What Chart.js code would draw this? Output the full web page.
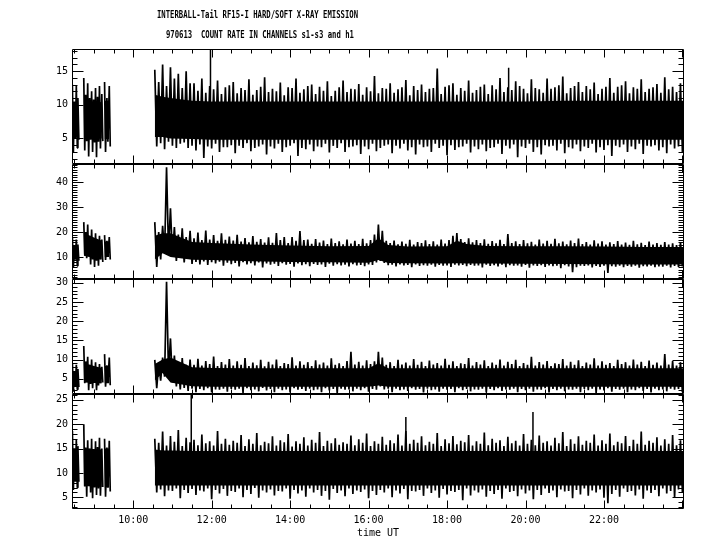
<!DOCTYPE html>
<html>
<head>
<meta charset="utf-8">
<script src="https://cdn.jsdelivr.net/npm/chart.js@4"></script>
<style>
  body { margin: 0; background: #fff; }
  #wrap { position: relative; width: 720px; height: 550px; }
  canvas { position: absolute; left: 0; top: 0; }
  .title { position: absolute; font-family: 'DejaVu Sans Mono', monospace; font-size: 11px; line-height: 11px; font-weight: bold;
           white-space: pre; transform: scaleX(0.66); transform-origin: 0 0; color: #000; }
</style>
</head>
<body>
<div id="wrap">
  <canvas id="chart" width="720" height="550"></canvas>
  <div class="title" style="left:157px; top:9px;">INTERBALL-Tail RF15-I HARD/SOFT X-RAY EMISSION</div>
  <div class="title" style="left:166px; top:29px;">970613  COUNT RATE IN CHANNELS s1-s3 and h1</div>
</div>
<script>
// --- Time grid (hours UT) ---
// early passes before the data gap, null entries mark breaks
const earlyTimes = [8.45, 8.50, 8.55, 8.59, 8.66, 8.74, 8.79, 8.84, 8.89, 8.94, 8.99, 9.04, 9.09, 9.14, 9.20, 9.23, 9.27, 9.33, 9.39];
const earlyStep = 0.05;
const mainStart = 10.55;
const mainStep = 0.1;
// knots for the dense (always covered) part of each trace
const coreTimes = [8.45, 8.59, 8.66, 8.74, 9.20, 9.23, 9.27, 9.39, 10.0, 10.55, 10.75, 10.95, 11.5, 12, 13, 14, 15, 16, 16.25, 16.5, 17, 18, 18.25, 18.5, 19, 20, 21, 22, 23, 24.04];
const xTickHours = [10, 12, 14, 16, 18, 20, 22];

// --- Channel 1 (s1): max / min count in each time bin ---
const p1EarlyHi = [13.0, 10.5, 12.8, 11.0, null, 14.0, 11.5, 13.2, 11.0, 12.0, 10.8, 12.5, 11.2, 12.8, 11.6, null, 13.4, 11.0, 12.8];
const p1EarlyLo = [3.0, 5.0, 3.6, 4.8, null, 3.2, 4.6, 2.3, 4.8, 3.0, 4.4, 2.2, 4.5, 3.5, 4.6, null, 3.0, 4.5, 3.8];
const p1Hi = [15.2, 13.4, 16.0, 12.8, 15.6, 13.9, 14.6, 12.5, 15.0, 13.2,
  13.2, 12.1, 13.9, 11.8, 12.8, 12.3, 13.6, 11.6, 12.6, 12.9,
  13.4, 11.7, 12.5, 12.2, 13.8, 11.5, 12.2, 12.7, 14.1, 11.9,
  12.4, 12.0, 13.3, 11.4, 12.6, 12.5, 13.9, 11.8, 12.3, 12.8,
  13.0, 11.6, 12.7, 12.1, 13.5, 11.3, 12.1, 12.6, 13.6, 11.9,
  12.4, 12.3, 13.1, 11.5, 12.6, 12.0, 14.3, 11.7, 12.5, 12.4,
  13.2, 11.8, 12.3, 12.6, 13.7, 11.4, 12.8, 12.2, 13.0, 11.9,
  12.4, 12.5, 15.4, 11.6, 12.7, 12.9, 13.2, 11.5, 12.5, 12.1,
  13.6, 11.8, 12.2, 12.7, 13.0, 11.6, 12.9, 12.3, 14.0, 11.9,
  12.6, 12.2, 13.5, 12.8, 12.4, 11.7, 13.8, 12.5, 12.3, 11.8,
  13.9, 12.4, 12.6, 12.9, 14.2, 11.7, 12.5, 12.8, 13.4, 11.9,
  12.8, 12.3, 13.3, 11.6, 12.4, 12.7, 14.0, 11.8, 12.7, 12.9,
  13.5, 11.7, 12.6, 12.4, 13.8, 11.9, 12.4, 12.6, 13.1, 11.8,
  14.1, 12.3, 12.7, 11.9, 13.2, 12.5];
const p1Lo = [3.8, 4.3, 3.4, 4.5, 3.9, 3.6, 4.2, 4.4, 3.6, 3.9,
  3.2, 4.1, 2.1, 3.8, 3.5, 4.2, 3.0, 3.7, 3.7, 4.0,
  2.8, 3.9, 3.6, 4.3, 3.1, 3.6, 3.8, 4.1, 2.6, 3.8,
  3.5, 4.2, 3.0, 3.7, 3.9, 4.3, 2.4, 3.6, 3.4, 4.1,
  3.1, 3.8, 3.7, 4.2, 2.9, 3.9, 3.6, 4.3, 3.0, 3.7,
  3.8, 4.0, 2.7, 3.8, 3.4, 4.2, 3.1, 3.6, 3.9, 4.1,
  2.8, 3.9, 3.5, 4.2, 3.2, 3.7, 2.6, 4.1, 3.7, 3.8,
  3.0, 4.2, 3.6, 3.9, 2.5, 4.0, 3.3, 3.7, 3.8, 4.2,
  2.9, 3.8, 3.4, 4.1, 3.1, 3.6, 3.7, 4.2, 2.7, 3.9,
  3.5, 4.1, 2.2, 3.8, 3.6, 4.2, 3.0, 3.7, 2.6, 4.0,
  3.8, 3.9, 3.2, 4.2, 2.8, 3.7, 3.5, 4.1, 3.1, 3.8,
  3.6, 4.2, 2.9, 3.7, 3.3, 4.0, 2.4, 3.9, 3.7, 4.1,
  3.0, 3.8, 3.4, 4.2, 2.7, 3.9, 3.8, 4.0, 3.2, 3.7,
  2.8, 4.1, 3.5, 3.8, 3.0, 4.2];
const p1CoreHi = [10.2, 10.2, null, 10.6, 10.4, null, 10.6, 10.6, null, 11.5, 11.2, 11.0, 10.6, 10.5, 10.5, 10.5, 10.5, 10.5, 10.5, 10.5, 10.5, 10.5, 10.5, 10.5, 10.5, 10.5, 10.6, 10.6, 10.6, 10.6];
const p1CoreLo = [5.2, 5.2, null, 5.0, 5.0, null, 4.9, 4.9, null, 5.2, 5.2, 5.0, 4.9, 4.8, 4.8, 4.8, 4.8, 4.8, 4.8, 4.8, 4.8, 4.8, 4.8, 4.8, 4.8, 4.8, 4.8, 4.8, 4.8, 4.8];
const p1SpikeTimes = [11.97, 19.57];
const p1SpikeTops = [18.3, 15.5];

// --- Channel 2 (s2) ---
const p2EarlyHi = [17.6, 14.5, 17.0, 15.0, null, 24.0, 20.0, 23.0, 18.5, 21.0, 17.0, 19.5, 16.8, 18.5, 17.0, null, 18.8, 16.5, 18.0];
const p2EarlyLo = [5.6, 9.0, 6.5, 8.5, null, 11.0, 9.5, 10.2, 7.0, 9.0, 6.0, 8.5, 6.5, 9.0, 8.0, null, 8.8, 10.0, 9.0];
const p2Hi = [24.0, 20.0, 22.5, 46.0, 29.5, 22.0, 19.0, 21.5, 18.0, 20.5,
  17.5, 19.8, 16.8, 20.6, 17.0, 18.8, 16.5, 19.5, 16.9, 18.2,
  16.6, 18.9, 16.2, 17.6, 15.9, 18.4, 16.1, 17.2, 15.8, 17.9,
  15.7, 19.6, 16.8, 18.0, 15.6, 18.0, 16.5, 20.4, 16.8, 17.0,
  15.3, 17.2, 15.8, 16.6, 15.2, 17.4, 15.6, 16.3, 15.1, 17.0,
  15.4, 16.5, 15.2, 17.3, 15.5, 16.8, 19.0, 23.0, 20.5, 16.5,
  15.6, 16.6, 15.1, 16.2, 15.3, 16.9, 15.0, 16.0, 15.6, 16.7,
  15.2, 16.3, 15.0, 17.0, 15.4, 16.8, 18.5, 19.6, 17.2, 16.0,
  17.5, 15.9, 16.8, 15.6, 17.1, 15.3, 16.4, 15.5, 16.9, 15.2,
  19.2, 15.6, 16.3, 15.2, 16.8, 15.5, 16.1, 15.0, 17.0, 15.4,
  16.5, 15.3, 17.3, 15.5, 16.2, 15.1, 16.6, 15.6, 17.4, 15.2,
  16.0, 15.0, 16.7, 15.4, 16.3, 15.0, 15.9, 15.2, 16.4, 15.0,
  15.8, 14.9, 16.5, 15.1, 15.7, 14.8, 16.2, 15.0, 15.6, 14.9,
  16.0, 15.0, 15.5, 14.8, 15.9, 15.1];
const p2Lo = [6.0, 9.0, 11.5, 12.5, 10.0, 8.4, 9.6, 7.8, 9.2, 7.2,
  8.0, 7.0, 8.2, 6.8, 7.9, 7.4, 8.1, 6.5, 7.7, 7.1,
  7.6, 6.2, 7.9, 7.0, 7.5, 6.6, 7.8, 5.8, 7.4, 6.9,
  7.3, 6.4, 7.5, 6.9, 7.2, 6.1, 7.4, 6.7, 7.1, 6.3,
  7.2, 6.8, 7.0, 6.0, 7.3, 6.5, 7.1, 6.6, 6.9, 6.2,
  7.1, 6.6, 6.8, 6.3, 7.0, 6.8, 7.8, 8.4, 7.6, 6.7,
  6.9, 6.2, 7.0, 6.6, 6.8, 5.9, 7.0, 6.4, 6.7, 6.5,
  6.9, 6.1, 6.8, 6.5, 6.6, 6.0, 6.9, 6.6, 6.8, 6.3,
  6.8, 6.5, 6.6, 5.8, 6.9, 6.4, 6.7, 6.2, 6.9, 5.9,
  6.7, 6.5, 6.6, 6.1, 6.8, 5.7, 6.6, 6.4, 6.7, 6.0,
  6.6, 6.3, 6.5, 5.5, 6.7, 6.2, 3.9, 5.9, 6.5, 6.4,
  6.6, 5.8, 6.4, 6.0, 6.5, 3.6, 6.3, 6.1, 6.5, 5.9,
  6.4, 6.1, 6.5, 5.7, 6.3, 6.2, 6.5, 5.9, 6.2, 6.1,
  6.5, 5.8, 6.4, 6.0, 6.2, 5.9];
const p2CoreHi = [14.2, 14.2, null, 19.5, 16.5, null, 16.2, 16.2, null, 18.5, 19.5, 19.5, 16.0, 15.6, 15.0, 14.6, 14.3, 14.4, 17.5, 14.8, 14.2, 14.3, 16.5, 15.2, 14.4, 14.3, 14.3, 14.2, 14.0, 14.0];
const p2CoreLo = [9.0, 9.0, null, 10.5, 9.0, null, 10.0, 10.0, null, 9.0, 11.5, 10.0, 8.9, 8.8, 8.3, 8.0, 7.9, 7.7, 8.8, 7.6, 7.5, 7.4, 7.5, 7.4, 7.4, 7.3, 7.2, 7.1, 7.0, 7.0];
const p2SpikeTimes = [];
const p2SpikeTops = [];

// --- Channel 3 (s3) ---
const p3EarlyHi = [9.0, 7.0, 8.6, 7.5, null, 13.5, 9.5, 10.7, 8.6, 10.0, 8.0, 9.3, 7.8, 8.8, 8.1, null, 11.4, 8.5, 10.5];
const p3EarlyLo = [1.6, 3.0, 2.2, 2.8, null, 3.8, 4.5, 2.0, 3.6, 2.5, 3.9, 2.0, 3.2, 3.8, 4.0, null, 2.9, 4.0, 3.3];
const p3Hi = [9.9, 9.0, 10.5, 30.3, 15.5, 11.0, 9.0, 10.4, 8.6, 10.0,
  8.6, 10.2, 8.4, 9.6, 8.8, 10.8, 8.3, 9.3, 8.7, 10.1,
  8.4, 9.5, 8.6, 10.4, 8.3, 9.2, 8.5, 9.9, 8.2, 9.4,
  8.7, 10.0, 8.3, 9.1, 8.8, 10.6, 8.4, 9.5, 8.6, 9.3,
  8.3, 9.8, 8.7, 9.2, 8.4, 10.3, 8.6, 9.0, 8.3, 9.6,
  12.0, 8.7, 9.4, 8.4, 9.8, 8.8, 9.5, 12.0, 10.5, 8.6,
  9.3, 8.3, 9.9, 8.7, 9.2, 8.4, 10.1, 8.6, 9.4, 8.3,
  9.7, 8.7, 9.1, 8.4, 10.2, 8.6, 9.5, 8.3, 9.0, 8.8,
  10.4, 8.4, 9.3, 8.7, 9.8, 8.3, 9.2, 8.6, 10.0, 8.4,
  9.4, 8.8, 9.9, 8.3, 9.1, 8.6, 10.7, 8.4, 9.3, 8.7,
  9.6, 8.3, 9.0, 8.8, 10.1, 8.4, 9.4, 8.6, 9.8, 8.3,
  9.2, 8.7, 10.3, 8.4, 9.5, 8.6, 9.1, 8.3, 9.9, 8.8,
  9.3, 8.4, 10.0, 8.7, 9.4, 8.3, 9.7, 8.6, 9.2, 8.4,
  11.4, 8.7, 9.6, 8.4, 9.3, 8.8];
const p3Lo = [2.5, 4.5, 5.5, 6.5, 4.0, 3.0, 2.2, 2.6, 1.8, 2.4,
  1.5, 2.3, 2.0, 2.5, 1.4, 2.2, 2.1, 2.4, 1.6, 2.3,
  2.1, 2.4, 1.3, 2.5, 2.0, 2.2, 1.7, 2.6, 1.9, 2.3,
  1.5, 2.4, 2.0, 2.2, 1.4, 2.5, 2.1, 2.3, 1.8, 2.4,
  2.0, 2.2, 1.5, 2.5, 1.9, 2.3, 1.3, 2.4, 2.1, 2.2,
  1.7, 2.4, 2.0, 2.5, 1.6, 2.3, 2.1, 3.0, 2.2, 2.4,
  1.5, 2.4, 2.0, 2.2, 1.8, 2.5, 2.1, 2.3, 1.4, 2.4,
  2.0, 2.2, 1.6, 2.4, 2.1, 2.3, 1.5, 2.5, 2.0, 2.3,
  1.7, 2.2, 2.1, 2.4, 1.4, 2.3, 2.0, 2.5, 1.8, 2.2,
  2.1, 2.4, 1.5, 2.3, 2.0, 2.4, 1.6, 2.2, 2.1, 2.5,
  1.4, 2.3, 2.0, 2.4, 1.7, 2.2, 2.1, 2.4, 1.5, 2.3,
  2.0, 2.4, 1.3, 2.2, 1.9, 2.5, 1.6, 2.3, 2.1, 2.4,
  1.5, 2.2, 2.0, 2.5, 1.8, 2.3, 1.4, 2.4, 2.0, 2.2,
  1.7, 2.4, 2.1, 2.3, 1.5, 2.4];
const p3CoreHi = [7.0, 7.0, null, 9.0, 7.8, null, 8.3, 8.3, null, 8.8, 10.0, 10.5, 8.0, 7.8, 7.7, 7.7, 7.7, 7.7, 9.0, 7.7, 7.7, 7.7, 7.7, 7.7, 7.7, 7.7, 7.7, 7.7, 7.7, 7.7];
const p3CoreLo = [3.0, 3.0, null, 4.0, 3.8, null, 3.8, 3.8, null, 4.5, 6.5, 4.0, 3.0, 2.9, 2.9, 2.9, 2.9, 2.9, 3.2, 2.9, 2.9, 2.9, 2.9, 2.9, 2.9, 2.9, 2.9, 2.9, 2.9, 2.9];
const p3SpikeTimes = [];
const p3SpikeTops = [];

// --- Channel 4 (h1) ---
const p4EarlyHi = [18.6, 15.0, 16.8, 15.5, null, 20.0, 15.2, 16.7, 15.0, 17.0, 14.8, 16.5, 15.3, 17.2, 15.0, null, 17.0, 15.2, 16.6];
const p4EarlyLo = [6.5, 8.5, 7.0, 8.2, null, 7.2, 5.1, 7.5, 6.0, 4.8, 7.0, 5.5, 6.8, 5.3, 7.1, null, 5.1, 7.0, 6.2];
const p4Hi = [17.0, 16.2, 18.5, 15.6, 17.6, 16.4, 18.8, 15.5, 17.2, 16.3,
  16.8, 15.7, 17.9, 16.1, 16.5, 15.6, 18.6, 16.0, 17.0, 15.8,
  16.6, 16.2, 17.8, 15.5, 16.9, 16.0, 18.2, 15.7, 16.4, 16.1,
  17.5, 15.6, 16.7, 16.3, 18.0, 15.4, 16.5, 16.0, 17.3, 15.6,
  16.8, 16.2, 18.4, 15.5, 16.6, 16.1, 17.1, 15.8, 16.3, 16.0,
  17.7, 15.7, 16.9, 16.2, 18.1, 15.5, 16.5, 16.0, 17.4, 15.8,
  16.7, 16.1, 17.9, 15.6, 18.6, 16.0, 16.8, 16.2, 17.5, 15.7,
  16.4, 16.0, 18.2, 15.5, 16.9, 16.1, 17.6, 15.9, 16.6, 16.3,
  17.8, 15.6, 16.5, 16.0, 18.3, 15.7, 17.0, 16.2, 16.7, 15.5,
  17.4, 16.1, 16.6, 15.6, 18.0, 16.0, 16.8, 15.7, 17.7, 16.2,
  16.5, 15.6, 17.2, 16.1, 18.4, 15.5, 16.9, 16.0, 17.5, 15.8,
  16.6, 16.2, 17.9, 15.6, 16.7, 16.0, 18.1, 15.7, 16.4, 16.1,
  17.6, 15.5, 16.8, 16.0, 18.5, 15.8, 16.6, 16.2, 17.3, 15.6,
  16.9, 16.0, 17.8, 15.7, 16.7, 16.1];
const p4Lo = [6.0, 6.6, 5.2, 6.4, 6.3, 6.8, 4.8, 6.5, 5.9, 6.7,
  5.5, 6.4, 6.2, 6.8, 4.6, 6.5, 5.8, 6.7, 5.3, 6.3,
  6.1, 6.8, 5.0, 6.5, 5.7, 6.9, 4.9, 6.4, 6.0, 6.6,
  5.4, 6.3, 6.2, 6.8, 4.7, 6.5, 5.8, 6.4, 5.1, 6.8,
  6.0, 6.5, 5.3, 6.3, 4.5, 6.7, 5.9, 6.4, 5.2, 6.8,
  5.7, 6.4, 6.1, 6.6, 4.8, 6.3, 5.5, 6.5, 6.0, 6.8,
  5.0, 6.4, 5.8, 6.7, 4.6, 6.3, 6.2, 6.5, 5.3, 6.8,
  5.9, 6.4, 4.9, 6.7, 5.6, 6.3, 6.1, 6.5, 4.4, 6.8,
  5.4, 6.4, 6.0, 6.6, 5.1, 6.3, 5.7, 6.5, 4.7, 6.8,
  6.1, 6.3, 5.2, 6.6, 5.8, 6.4, 4.6, 6.5, 5.5, 6.8,
  5.9, 6.4, 5.0, 6.6, 6.2, 6.3, 4.8, 6.5, 5.6, 6.8,
  5.3, 6.4, 6.0, 6.6, 4.9, 3.8, 5.7, 6.5, 5.1, 6.8,
  6.1, 6.3, 5.4, 6.6, 4.7, 6.4, 5.9, 6.5, 5.2, 6.8,
  5.8, 6.3, 4.9, 6.6, 6.0, 6.4];
const p4CoreHi = [15.0, 15.0, null, 15.0, 14.8, null, 15.0, 15.0, null, 14.8, 14.6, 14.6, 14.5, 14.5, 14.5, 14.5, 14.5, 14.5, 14.5, 14.5, 14.5, 14.5, 14.5, 14.5, 14.5, 14.5, 14.5, 14.5, 14.5, 14.5];
const p4CoreLo = [8.2, 8.2, null, 7.3, 7.1, null, 7.0, 7.0, null, 7.4, 7.4, 7.4, 7.4, 7.4, 7.4, 7.4, 7.4, 7.4, 7.4, 7.4, 7.4, 7.4, 7.4, 7.4, 7.4, 7.4, 7.4, 7.4, 7.4, 7.4];
const p4SpikeTimes = [11.48, 16.95, 20.19];
const p4SpikeTops = [26.2, 21.5, 22.5];

// --- Panel setup (top to bottom) ---
const panels = [
  { id: 'y1', min: 1.2, max: 18.3, labels: [5, 10, 15], major: 5,
    earlyHi: p1EarlyHi, earlyLo: p1EarlyLo, hi: p1Hi, lo: p1Lo, coreHi: p1CoreHi, coreLo: p1CoreLo,
    spikeT: p1SpikeTimes, spikeV: p1SpikeTops, spikeBase: 10.5 },
  { id: 'y2', min: 1.2, max: 47.3, labels: [10, 20, 30, 40], major: 10,
    earlyHi: p2EarlyHi, earlyLo: p2EarlyLo, hi: p2Hi, lo: p2Lo, coreHi: p2CoreHi, coreLo: p2CoreLo,
    spikeT: p2SpikeTimes, spikeV: p2SpikeTops, spikeBase: 14 },
  { id: 'y3', min: 1.0, max: 31.0, labels: [5, 10, 15, 20, 25, 30], major: 5,
    earlyHi: p3EarlyHi, earlyLo: p3EarlyLo, hi: p3Hi, lo: p3Lo, coreHi: p3CoreHi, coreLo: p3CoreLo,
    spikeT: p3SpikeTimes, spikeV: p3SpikeTops, spikeBase: 7.5 },
  { id: 'y4', min: 2.6, max: 26.2, labels: [5, 10, 15, 20, 25], major: 5,
    earlyHi: p4EarlyHi, earlyLo: p4EarlyLo, hi: p4Hi, lo: p4Lo, coreHi: p4CoreHi, coreLo: p4CoreLo,
    spikeT: p4SpikeTimes, spikeV: p4SpikeTops, spikeBase: 14.5 }
];

const monoFont = { family: "'DejaVu Sans Mono', monospace", size: 10 };

// max then min of every bin, so the trace sweeps the full range like the original plot
function buildTrace(p) {
  const pts = [];
  earlyTimes.forEach((t, i) => {
    pts.push({ x: t, y: p.earlyHi[i] }, { x: t + earlyStep / 2, y: p.earlyLo[i] });
  });
  pts.push({ x: 10.0, y: null });
  p.hi.forEach((v, i) => {
    const t = mainStart + i * mainStep;
    pts.push({ x: t, y: v }, { x: t + mainStep / 2, y: p.lo[i] });
  });
  return pts;
}

function buildCore(values) {
  return coreTimes.map((t, i) => ({ x: t, y: values[i] }));
}

function buildSpikes(p) {
  const pts = [];
  p.spikeT.forEach((t, i) => {
    pts.push({ x: t, y: p.spikeBase }, { x: t, y: p.spikeV[i] }, { x: t, y: null });
  });
  return pts;
}

const lineStyle = { borderColor: '#000', backgroundColor: '#000', pointRadius: 0, tension: 0,
                    spanGaps: false, fill: false, borderJoinStyle: 'bevel' };

const datasets = [];
panels.forEach(p => {
  datasets.push({ ...lineStyle, yAxisID: p.id, data: buildCore(p.coreHi), borderWidth: 0 });
  datasets.push({ ...lineStyle, yAxisID: p.id, data: buildCore(p.coreLo), borderWidth: 0, fill: '-1' });
  datasets.push({ ...lineStyle, yAxisID: p.id, data: buildTrace(p), borderWidth: 1.7 });
  datasets.push({ ...lineStyle, yAxisID: p.id, data: buildSpikes(p), borderWidth: 1.5 });
});

// --- Frame and inward tick marks for every panel ---
const framePlugin = {
  id: 'panelFrame',
  afterDatasetsDraw(chart) {
    const ctx = chart.ctx;
    const xs = chart.scales.x;
    const left = Math.round(chart.chartArea.left) + 0.5;
    const right = Math.round(chart.chartArea.right) - 0.5;
    ctx.save();
    ctx.strokeStyle = '#000';
    ctx.lineWidth = 1;
    panels.forEach(p => {
      const ys = chart.scales[p.id];
      const top = Math.round(ys.top) + 0.5;
      const bottom = Math.round(ys.bottom) - 0.5;
      ctx.beginPath();
      ctx.rect(left, top, right - left, bottom - top);
      // time ticks on top and bottom edge
      for (let t = 8.5; t <= xs.max; t += 0.5) {
        const x = Math.round(xs.getPixelForValue(t)) + 0.5;
        const len = t % 2 === 0 ? 8 : 4;
        ctx.moveTo(x, top); ctx.lineTo(x, top + len);
        ctx.moveTo(x, bottom); ctx.lineTo(x, bottom - len);
      }
      // count ticks on left and right edge
      for (let v = Math.ceil(ys.min); v <= ys.max; v++) {
        const y = Math.round(ys.getPixelForValue(v)) + 0.5;
        const len = v % p.major === 0 ? 11 : 5;
        ctx.moveTo(left, y); ctx.lineTo(left + len, y);
        ctx.moveTo(right, y); ctx.lineTo(right - len, y);
      }
      ctx.stroke();
    });
    ctx.restore();
  }
};

const scales = {
  x: {
    type: 'linear', min: 8.44, max: 24.04,
    grid: { display: false, drawTicks: false }, border: { display: false },
    ticks: { font: monoFont, color: '#000', padding: 5, maxRotation: 0, autoSkip: false, callback: v => v + ':00' },
    afterBuildTicks: s => { s.ticks = xTickHours.map(v => ({ value: v })); },
    afterFit: s => { s.height = 41; },
    title: { display: true, text: 'time UT', font: monoFont, color: '#000', padding: { top: 0, bottom: 11 } }
  }
};
// stacked axes are laid out bottom-up, so add them in reverse
panels.slice().reverse().forEach(p => {
  scales[p.id] = {
    type: 'linear', position: 'left', stack: 'panels', stackWeight: 1,
    min: p.min, max: p.max,
    grid: { display: false, drawTicks: false }, border: { display: false },
    ticks: { font: monoFont, color: '#000', padding: 4, autoSkip: false },
    afterBuildTicks: s => { s.ticks = p.labels.map(v => ({ value: v })); },
    afterFit: s => { s.width = 72; }
  };
});

new Chart(document.getElementById('chart'), {
  type: 'line',
  data: { datasets },
  options: {
    responsive: false,
    animation: false,
    layout: { padding: { left: 0, right: 36, top: 49, bottom: 0 } },
    plugins: { legend: { display: false }, tooltip: { enabled: false }, title: { display: false } },
    scales
  },
  plugins: [framePlugin]
});
</script>
</body>
</html>
